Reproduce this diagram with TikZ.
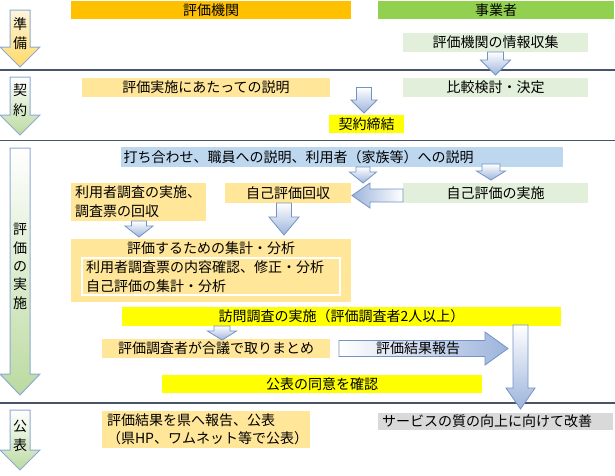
\documentclass[tikz,border=0pt]{standalone}
\usepackage{fontspec}
\setmainfont{Noto Sans CJK JP}
\usetikzlibrary{calc}
\definecolor{hdrorange}{HTML}{FFC000}
\definecolor{hdrgreen}{HTML}{92D050}
\definecolor{lorange}{HTML}{FFE699}
\definecolor{lgreen}{HTML}{E2EFDA}
\definecolor{lblue}{HTML}{BDD7EE}
\definecolor{yel}{HTML}{FFFF00}
\definecolor{gry}{HTML}{D9D9D9}
\definecolor{sepcol}{HTML}{48546A}
\definecolor{arrborder}{HTML}{7393C4}
\definecolor{arrblue}{HTML}{9DB4DC}
\definecolor{pborder}{HTML}{8EAAD3}
\definecolor{pyellow}{HTML}{FFD966}
\definecolor{pyellowtop}{HTML}{FFF6DC}
\definecolor{pgreen}{HTML}{BBDAA0}
\newcommand\fs{\fontsize{14}{19}\selectfont}
\tikzset{
  box/.style={inner sep=0pt, outer sep=0pt, font=\fs, align=center},
  blockarr/.style={draw=arrborder, line width=0.8pt},
  phasearr/.style={draw=pborder, line width=1pt},
  sepline/.style={draw=sepcol, line width=1.2pt},
  phaselbl/.style={inner sep=0pt, align=center},
}
% down block arrow: #1 start (top y), #2 tip (x and tip y), #3 shaft half, #4 head half, #5 head length
\newcommand\DArr[5]{%
  \shade[blockarr, top color=white, bottom color=arrblue] let \p1=#1, \p2=#2 in
  (\x2-#3pt,\y1) -- (\x2+#3pt,\y1) -- (\x2+#3pt,\y2+#5pt) -- (\x2+#4pt,\y2+#5pt)
  -- (\x2,\y2) -- (\x2-#4pt,\y2+#5pt) -- (\x2-#3pt,\y2+#5pt) -- cycle;}
% left-pointing block arrow: #1 tail, #2 tip
\newcommand\LArr[5]{%
  \shade[blockarr, left color=arrblue, right color=white] let \p1=#1, \p2=#2 in
  (\x1,\y2+#3pt) -- (\x2+#5pt,\y2+#3pt) -- (\x2+#5pt,\y2+#4pt) -- (\x2,\y2)
  -- (\x2+#5pt,\y2-#4pt) -- (\x2+#5pt,\y2-#3pt) -- (\x1,\y2-#3pt) -- cycle;}
% right-pointing block arrow
\newcommand\RArr[5]{%
  \shade[blockarr, left color=white, right color=arrblue] let \p1=#1, \p2=#2 in
  (\x1,\y2+#3pt) -- (\x2-#5pt,\y2+#3pt) -- (\x2-#5pt,\y2+#4pt) -- (\x2,\y2)
  -- (\x2-#5pt,\y2-#4pt) -- (\x2-#5pt,\y2-#3pt) -- (\x1,\y2-#3pt) -- cycle;}
% phase arrow at left: #1 top, #2 head base, #3 tip, #4 top colour, #5 bottom colour
\newcommand\PArr[5]{%
  \shade[phasearr, top color=#4, bottom color=#5]
  (10,#1) -- (30,#1) -- (30,#2) -- (40,#2) -- (20,#3) -- (0,#2) -- (10,#2) -- cycle;}
\begin{document}
\begin{tikzpicture}[x=1pt,y=-1pt]
\useasboundingbox[fill=white] (0,0) rectangle (615,475);
% separators
\draw[sepline] (0,70) -- (615,70);
\draw[sepline] (0,140.5) -- (615,140.5);
\draw[sepline] (0,403) -- (615,403);
% phase arrows
\PArr{10}{47}{67}{pyellowtop}{pyellow}
\PArr{77}{115}{135}{white}{pgreen}
\PArr{148}{374}{395}{white}{pgreen}
\PArr{410}{450}{470}{white}{pgreen}
\node[phaselbl, font=\fontsize{14}{19}\selectfont] (p1) at (20,33.5) {準\\備};
\node[phaselbl, font=\fontsize{14}{19.5}\selectfont] (p2) at (20,100) {契\\約};
\node[phaselbl, font=\fontsize{14}{18.3}\selectfont] (p3) at (20,266.5) {評\\価\\の\\実\\施};
\node[phaselbl, font=\fontsize{14}{19}\selectfont] (p4) at (20,435.5) {公\\表};
% headers
\node[box, fill=hdrorange, minimum width=280, minimum height=18] (hk) at (211,10) {評価機関};
\node[box, fill=hdrgreen, minimum width=236, minimum height=18] (jg) at (496,10) {事業者};
% preparation / contract
\node[box, fill=lgreen, minimum width=185, minimum height=19] (info) at (495.5,42.5) {評価機関の情報収集};
\node[box, fill=lgreen, minimum width=185, minimum height=19] (cmp) at (495.5,87.5) {比較検討・決定};
\node[box, fill=lorange, minimum width=248, minimum height=19] (expl) at (206,87.5) {評価実施にあたっての説明};
\node[box, fill=yel, minimum width=75, minimum height=18] (keiyaku) at (366.5,124) {契約締結};
% implementation
\node[box, fill=lblue, minimum height=20, text width=436, inner xsep=3pt, align=left] (uchi) at (341.5,157) {打ち合わせ、職員への説明、利用者（家族等）への説明};
\node[box, fill=lorange, minimum height=38, text width=127, inner xsep=4pt, align=left] (riyo) at (138.5,202) {利用者調査の実施、\\調査票の回収};
\node[box, fill=lorange, minimum width=126, minimum height=20] (kaishu) at (288,193) {自己評価回収};
\node[box, fill=lgreen, minimum width=185, minimum height=20] (jisshi) at (495.5,193) {自己評価の実施};
\node[box, fill=lorange, minimum width=280, minimum height=63] (shukei) at (211,270.5) {};
\node[box] (shtitle) at (211,248) {評価するための集計・分析};
\node[box, fill=lorange, draw=white, line width=1.5pt, minimum height=37, text width=250, inner xsep=4pt, align=left] (inner) at (211,276.5) {利用者調査票の内容確認、修正・分析\\自己評価の集計・分析};
\node[box, fill=yel, minimum width=439, minimum height=19] (houmon) at (341.5,316.5) {訪問調査の実施（評価調査者2人以上）};
\node[box, fill=lorange, minimum width=228, minimum height=19] (gougi) at (216,348.5) {評価調査者が合議で取りまとめ};
\node[box, fill=yel, minimum width=320, minimum height=18] (doui) at (322,384) {公表の同意を確認};
% publication
\node[box, fill=lorange, minimum height=37, text width=198, inner xsep=5pt, align=left, font=\fontsize{14}{18}\selectfont] (kohyo) at (206,429.5) {評価結果を県へ報告、公表\\（県HP、ワムネット等で公表）};
\node[box, fill=gry, minimum height=17, text width=227, inner xsep=4pt, align=left] (kaizen) at (495.5,421.5) {サービスの質の向上に向けて改善};
% connector block arrows
\DArr{(info.south)}{([yshift=3pt]cmp.north)}{8}{15}{15}
\DArr{(expl.east)}{([xshift=-2.5pt,yshift=2pt]keiyaku.north)}{7.5}{13}{13}
\DArr{(uchi.south)}{([xshift=75pt]kaishu.north)}{7}{13.5}{11}
\DArr{([yshift=3pt]uchi.south)}{([xshift=-4.5pt,yshift=3pt]jisshi.north)}{9}{14.5}{9}
\LArr{(jisshi.west)}{([xshift=1pt,yshift=-2.5pt]kaishu.east)}{6.5}{12.5}{18}
\DArr{(riyo.south)}{([xshift=-72pt,yshift=2pt]shukei.north)}{7.5}{14}{11}
\DArr{(kaishu.south)}{([xshift=73pt,yshift=4pt]shukei.north)}{7.5}{15}{18}
\DArr{(houmon.south)}{([xshift=6pt,yshift=-1pt]gougi.north)}{8}{14.5}{9}
\DArr{([yshift=1pt]houmon.south)}{([xshift=25pt,yshift=4pt]kaizen.north)}{7.5}{14.5}{21}
\RArr{([xshift=9pt]gougi.east)}{([xshift=178pt]gougi.east)}{8}{16.5}{23}
\node[box] (hokoku) at ([xshift=88pt]gougi.east) {評価結果報告};
\end{tikzpicture}
\end{document}
